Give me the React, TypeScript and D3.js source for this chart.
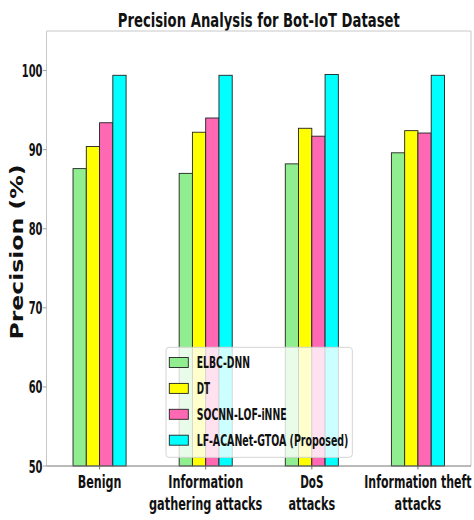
import React from "react";
import * as d3 from "d3";

// Categories (each label may wrap onto two lines)
const categories: string[][] = [
  ["Benign"],
  ["Information", "gathering attacks"],
  ["DoS", "attacks"],
  ["Information theft", "attacks"],
];

const seriesNames = ["ELBC-DNN", "DT", "SOCNN-LOF-iNNE", "LF-ACANet-GTOA (Proposed)"];

// Precision (%) per category
const elbcDnn = [87.6, 87.0, 88.2, 89.6];
const dt = [90.4, 92.2, 92.7, 92.4];
const socnnLofInne = [93.4, 94.0, 91.7, 92.1];
const lfAcanetGtoa = [99.4, 99.4, 99.5, 99.4];

const yTicks = [50, 60, 70, 80, 90, 100];

const seriesValues = [elbcDnn, dt, socnnLofInne, lfAcanetGtoa];
const seriesColors = ["#90ee90", "#ffff00", "#ff69b4", "#00ffff"];

const W = 474;
const H = 520;
const plot = { left: 46.5, right: 471, top: 31, bottom: 466 };
const barWidth = 0.125;

// Rendered text widths (the font is drawn compressed horizontally)
const textWidths: Record<string, number> = {
  "Precision Analysis for Bot-IoT Dataset": 282,
  "Precision (%)": 175,
  Benign: 43.7,
  Information: 75,
  "gathering attacks": 113.3,
  DoS: 23.3,
  attacks: 46.7,
  "Information theft": 107.3,
  "ELBC-DNN": 53.3,
  DT: 13.3,
  "SOCNN-LOF-iNNE": 90,
  "LF-ACANet-GTOA (Proposed)": 151.7,
};

const FONT = "'DejaVu Sans', sans-serif";
const INK = "#111";

function Txt(props: {
  x: number;
  y: number;
  text: string;
  size: number;
  anchor?: "start" | "middle" | "end";
  width?: number;
  transform?: string;
}) {
  const w = props.width ?? textWidths[props.text];
  return (
    <text
      x={props.x}
      y={props.y}
      fontFamily={FONT}
      fontWeight="bold"
      fontSize={props.size}
      fill={INK}
      textAnchor={props.anchor ?? "start"}
      textLength={w}
      lengthAdjust="spacingAndGlyphs"
      transform={props.transform}
    >
      {props.text}
    </text>
  );
}

export default function App() {
  const x = d3.scaleLinear().domain([-0.5, categories.length - 0.5]).range([plot.left, plot.right]);
  const y = d3.scaleLinear().domain([50, 105]).range([plot.bottom, plot.top]);

  const legend = { x: 166, y: 347.3, w: 186.3, h: 110, rowY0: 362.5, rowStep: 25.9 };

  return (
    <svg
      width={W}
      height={H}
      viewBox={`0 0 ${W} ${H}`}
      style={{ position: "absolute", left: 0, top: 0, background: "#fff" }}
    >
      <rect x={0} y={0} width={W} height={H} fill="#fff" />

      {/* title */}
      <Txt x={(plot.left + plot.right) / 2} y={27} text="Precision Analysis for Bot-IoT Dataset" size={19} anchor="middle" />

      {/* bars */}
      {seriesValues.map((vals, si) =>
        vals.map((v, ci) => {
          const offset = (si - (seriesValues.length - 1) / 2) * barWidth;
          const x0 = x(ci + offset - barWidth / 2);
          const x1 = x(ci + offset + barWidth / 2);
          return (
            <rect
              key={`${si}-${ci}`}
              x={x0}
              y={y(v)}
              width={x1 - x0}
              height={y(50) - y(v)}
              fill={seriesColors[si]}
              stroke="#222"
              strokeWidth={0.9}
            />
          );
        })
      )}

      {/* spines */}
      <line x1={plot.left} x2={plot.right} y1={plot.top} y2={plot.top} stroke="#c8c8c8" strokeWidth={1} />
      <line x1={plot.right} x2={plot.right} y1={plot.top} y2={plot.bottom} stroke="#c8c8c8" strokeWidth={1} />
      <line x1={plot.left} x2={plot.left} y1={plot.top} y2={plot.bottom} stroke="#c8c8c8" strokeWidth={1} />
      <line x1={plot.left} x2={plot.right} y1={plot.bottom} y2={plot.bottom} stroke="#777" strokeWidth={1} />

      {/* y axis ticks */}
      {yTicks.map((t) => (
        <g key={t}>
          <line x1={plot.left - 3.5} x2={plot.left} y1={y(t)} y2={y(t)} stroke="#888" strokeWidth={0.8} />
          <Txt
            x={plot.left - 4}
            y={y(t) + 6.5}
            text={String(t)}
            size={18}
            anchor="end"
            width={String(t).length * 6.9}
          />
        </g>
      ))}

      {/* y axis label */}
      <Txt x={0} y={0} text="Precision (%)" size={18} anchor="middle" transform={`translate(23.3, 252) rotate(-90)`} />

      {/* x axis ticks and labels */}
      {categories.map((lines, ci) => (
        <g key={ci}>
          <line x1={x(ci)} x2={x(ci)} y1={plot.bottom} y2={plot.bottom + 3.5} stroke="#555" strokeWidth={0.8} />
          {lines.map((ln, li) => (
            <Txt key={li} x={x(ci)} y={488 + li * 22} text={ln} size={18} anchor="middle" />
          ))}
        </g>
      ))}

      {/* legend */}
      <rect
        x={legend.x}
        y={legend.y}
        width={legend.w}
        height={legend.h}
        rx={3}
        fill="#fff"
        fillOpacity={0.8}
        stroke="#d4d4d4"
        strokeWidth={1}
      />
      {seriesNames.map((name, si) => {
        const cy = legend.rowY0 + si * legend.rowStep;
        return (
          <g key={name}>
            <rect x={169.3} y={cy - 5} width={19} height={10} fill={seriesColors[si]} stroke="#222" strokeWidth={0.9} />
            <Txt x={196.7} y={cy + 5.8} text={name} size={16} />
          </g>
        );
      })}
    </svg>
  );
}
